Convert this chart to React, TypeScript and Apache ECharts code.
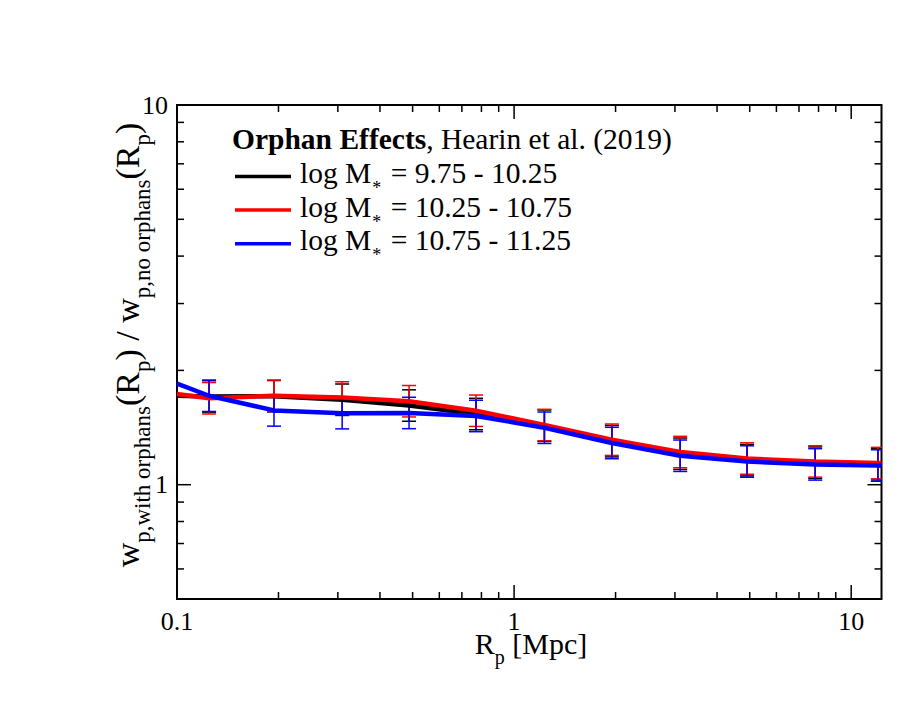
import React, { useEffect, useRef } from "react";
import * as echarts from "echarts";

// ---- axis extents ----
const X_MIN = 0.1;
const X_MAX = 12.3;
const Y_MIN = 0.5;
const Y_MAX = 10;

// ---- data ----
const RP = [0.1245, 0.194, 0.309, 0.488, 0.771, 1.23, 1.95, 3.11, 4.91, 7.82, 12.0];
const EDGE_X = [0.1, 12.3];

const BLACK = [1.708, 1.71, 1.674, 1.616, 1.535, 1.43, 1.302, 1.2065, 1.16, 1.143, 1.132];
const RED = [1.689, 1.715, 1.697, 1.659, 1.566, 1.436, 1.3136, 1.219, 1.172, 1.1515, 1.14];
const BLUE = [1.715, 1.569, 1.543, 1.545, 1.517, 1.4125, 1.2876, 1.192, 1.151, 1.131, 1.1233];

const BLACK_EDGE = [1.715, 1.131];
const RED_EDGE = [1.734, 1.139];
const BLUE_EDGE = [1.845, 1.122];

// fractional (log-symmetric) errors
const BLACK_ERR = [0.1, 0.1, 0.1, 0.1, 0.1, 0.1, 0.1, 0.1, 0.1, 0.1, 0.1];
const RED_ERR = [0.1, 0.1, 0.1, 0.1, 0.1, 0.1, 0.1, 0.1, 0.1, 0.1, 0.1];
const BLUE_ERR = [0.1, 0.1, 0.1, 0.1, 0.1, 0.1, 0.1, 0.1, 0.1, 0.1, 0.1];

const X_MAJOR = [0.1, 1, 10];
const X_MINOR = [0.2, 0.3, 0.4, 0.5, 0.6, 0.7, 0.8, 0.9, 2, 3, 4, 5, 6, 7, 8, 9];
const Y_MAJOR = [1, 10];
const Y_MINOR = [0.6, 0.7, 0.8, 0.9, 2, 3, 4, 5, 6, 7, 8, 9];

const LEGEND_TITLE_BOLD = "Orphan Effects";
const LEGEND_TITLE_REST = ", Hearin et al. (2019)";
const LEGEND_RANGES = ["= 9.75 - 10.25", "= 10.25 - 10.75", "= 10.75 - 11.25"];
const COLORS = ["#000000", "#ff0000", "#0000ff"];

const FONT = '"Liberation Serif", "Times New Roman", serif';

type Seg = { t: string; s: number; dy?: number; b?: boolean; gap?: number };

let measureCtx: CanvasRenderingContext2D | null = null;
function measure(text: string, font: string): number {
  if (!measureCtx) measureCtx = document.createElement("canvas").getContext("2d");
  measureCtx!.font = font;
  return measureCtx!.measureText(text).width;
}

function segTexts(segs: Seg[]) {
  let x = 0;
  const children: any[] = [];
  for (const g of segs) {
    const font = `${g.b ? "bold " : ""}${g.s}px ${FONT}`;
    const lead = (g.t.match(/^ */) as RegExpMatchArray)[0].length;
    const trail = (g.t.match(/ *$/) as RegExpMatchArray)[0].length;
    const sp = measure(" ", font);
    x += lead * sp + (g.gap || 0);
    const txt = g.t.trim();
    children.push({
      type: "text",
      x,
      y: (g.dy || 0) - 0.3375 * g.s,
      silent: true,
      style: {
        text: txt,
        font,
        fill: "#000",
        textAlign: "left",
        textVerticalAlign: "middle",
        align: "left",
        verticalAlign: "middle",
      },
    });
    x += measure(txt, font) + trail * sp;
  }
  return { children, width: x };
}

function fmtLog(v: number): string {
  const l = Math.log10(v);
  const e = Math.round(l);
  if (Math.abs(l - e) > 1e-6) return "";
  if (e < 0) return "0." + "0".repeat(-e - 1) + "1";
  return String(Math.pow(10, e));
}

function lineData(xs: number[], ys: number[], edge: number[]) {
  return [[EDGE_X[0], edge[0]], ...xs.map((x, i) => [x, ys[i]]), [EDGE_X[1], edge[1]]];
}

function barData(xs: number[], ys: number[], err: number[]) {
  return xs.map((x, i) => [x, ys[i], ys[i] / (1 + err[i]), ys[i] * (1 + err[i])]);
}

function errRender(color: string) {
  return (params: any, api: any) => {
    const x = api.value(0);
    const lo = api.coord([x, api.value(2)]);
    const hi = api.coord([x, api.value(3)]);
    const w = 7;
    const st = { stroke: color, lineWidth: 1.5 };
    return {
      type: "group",
      children: [
        { type: "line", shape: { x1: lo[0], y1: lo[1], x2: hi[0], y2: hi[1] }, style: st },
        { type: "line", shape: { x1: lo[0] - w, y1: lo[1], x2: lo[0] + w, y2: lo[1] }, style: st },
        { type: "line", shape: { x1: hi[0] - w, y1: hi[1], x2: hi[0] + w, y2: hi[1] }, style: st },
      ],
    };
  };
}

export default function App() {
  const ref = useRef<HTMLDivElement>(null);

  useEffect(() => {
    const chart = echarts.init(ref.current!, null, { renderer: "svg" });

    const xTickData = [...X_MAJOR.map((v) => [v, Y_MIN, 14]), ...X_MINOR.map((v) => [v, Y_MIN, 7])];
    const yTickData = [...Y_MAJOR.map((v) => [X_MIN, v, 14]), ...Y_MINOR.map((v) => [X_MIN, v, 7])];

    const tickStyle = { stroke: "#000", lineWidth: 1.5 };

    const series: any[] = [];
    const sets = [
      { name: "black", y: BLACK, e: BLACK_ERR, edge: BLACK_EDGE, c: COLORS[0] },
      { name: "red", y: RED, e: RED_ERR, edge: RED_EDGE, c: COLORS[1] },
      { name: "blue", y: BLUE, e: BLUE_ERR, edge: BLUE_EDGE, c: COLORS[2] },
    ];
    for (const s of sets) {
      series.push({
        type: "line",
        name: s.name,
        data: lineData(RP, s.y, s.edge),
        showSymbol: false,
        symbol: "none",
        clip: true,
        lineStyle: { color: s.c, width: 4.5 },
        itemStyle: { color: s.c },
        silent: true,
      });
      series.push({
        type: "custom",
        name: s.name + " err",
        data: barData(RP, s.y, s.e),
        encode: { x: 0, y: 1 },
        clip: true,
        silent: true,
        renderItem: errRender(s.c),
      });
    }
    series.push({
      type: "custom",
      data: xTickData,
      encode: { x: 0, y: 1 },
      silent: true,
      renderItem: (params: any, api: any) => {
        const v = api.value(0);
        const len = api.value(2);
        const b = api.coord([v, Y_MIN]);
        const t = api.coord([v, Y_MAX]);
        return {
          type: "group",
          children: [
            { type: "line", shape: { x1: b[0], y1: b[1], x2: b[0], y2: b[1] - len }, style: tickStyle },
            { type: "line", shape: { x1: t[0], y1: t[1], x2: t[0], y2: t[1] + len }, style: tickStyle },
          ],
        };
      },
    });
    series.push({
      type: "custom",
      data: yTickData,
      encode: { x: 0, y: 1 },
      silent: true,
      renderItem: (params: any, api: any) => {
        const v = api.value(1);
        const len = api.value(2);
        const l = api.coord([X_MIN, v]);
        const r = api.coord([X_MAX, v]);
        return {
          type: "group",
          children: [
            { type: "line", shape: { x1: l[0], y1: l[1], x2: l[0] + len, y2: l[1] }, style: tickStyle },
            { type: "line", shape: { x1: r[0], y1: r[1], x2: r[0] - len, y2: r[1] }, style: tickStyle },
          ],
        };
      },
    });

    // ---- graphic texts ----
    const graphic: any[] = [];

    // legend title
    const title = segTexts([
      { t: LEGEND_TITLE_BOLD, s: 29.5, b: true },
      { t: LEGEND_TITLE_REST, s: 29.5 },
    ]);
    graphic.push({ type: "group", x: 232, y: 148.5, children: title.children });

    LEGEND_RANGES.forEach((r, i) => {
      const base = 183 + 33.6 * i;
      graphic.push({
        type: "line",
        silent: true,
        shape: { x1: 235, y1: base - 6.5, x2: 291, y2: base - 6.5 },
        style: { stroke: COLORS[i], lineWidth: 3.5 },
      });
      const row = segTexts([
        { t: "log M", s: 29.5 },
        { t: "*", s: 18, dy: 11, gap: 1 },
        { t: " " + r, s: 29.5, gap: 2 },
      ]);
      graphic.push({ type: "group", x: 300, y: base, children: row.children });
    });

    // x axis title
    const xt = segTexts([
      { t: "R", s: 30 },
      { t: "p", s: 20, dy: 10 },
      { t: " [Mpc]", s: 30 },
    ]);
    graphic.push({ type: "group", x: 531 - xt.width / 2, y: 654, children: xt.children });

    // y axis title
    const yt = segTexts([
      { t: "w", s: 34 },
      { t: "p,with orphans", s: 23, dy: 11 },
      { t: "(R", s: 34 },
      { t: "p", s: 23, dy: 11 },
      { t: ") / w", s: 34 },
      { t: "p,no orphans", s: 23, dy: 11 },
      { t: "(R", s: 34 },
      { t: "p", s: 23, dy: 11 },
      { t: ")", s: 34 },
    ]);
    graphic.push({
      type: "group",
      x: 139,
      y: 345 + yt.width / 2,
      rotation: Math.PI / 2,
      children: yt.children,
    });

    const labelStyle = {
      fontSize: 26,
      fontFamily: FONT,
      color: "#000",
      formatter: fmtLog,
      showMinLabel: true,
      showMaxLabel: true,
      hideOverlap: false,
    };

    chart.setOption({
      animation: false,
      backgroundColor: "#ffffff",
      grid: {
        left: 177,
        top: 105,
        right: 31.5,
        bottom: 107,
        show: true,
        borderColor: "#000",
        borderWidth: 2,
        backgroundColor: "transparent",
        containLabel: false,
      },
      xAxis: {
        type: "log",
        logBase: 10,
        min: X_MIN,
        max: X_MAX,
        axisLine: { show: false },
        axisTick: { show: false },
        minorTick: { show: false },
        splitLine: { show: false },
        axisLabel: { ...labelStyle, margin: 9 },
      },
      yAxis: {
        type: "log",
        logBase: 10,
        min: Y_MIN,
        max: Y_MAX,
        axisLine: { show: false },
        axisTick: { show: false },
        minorTick: { show: false },
        splitLine: { show: false },
        axisLabel: { ...labelStyle, margin: 9 },
      },
      series,
      graphic,
    });

    return () => chart.dispose();
  }, []);

  return (
    <div
      ref={ref}
      style={{ position: "fixed", left: 0, top: 0, width: 913, height: 706, background: "#fff" }}
    />
  );
}
